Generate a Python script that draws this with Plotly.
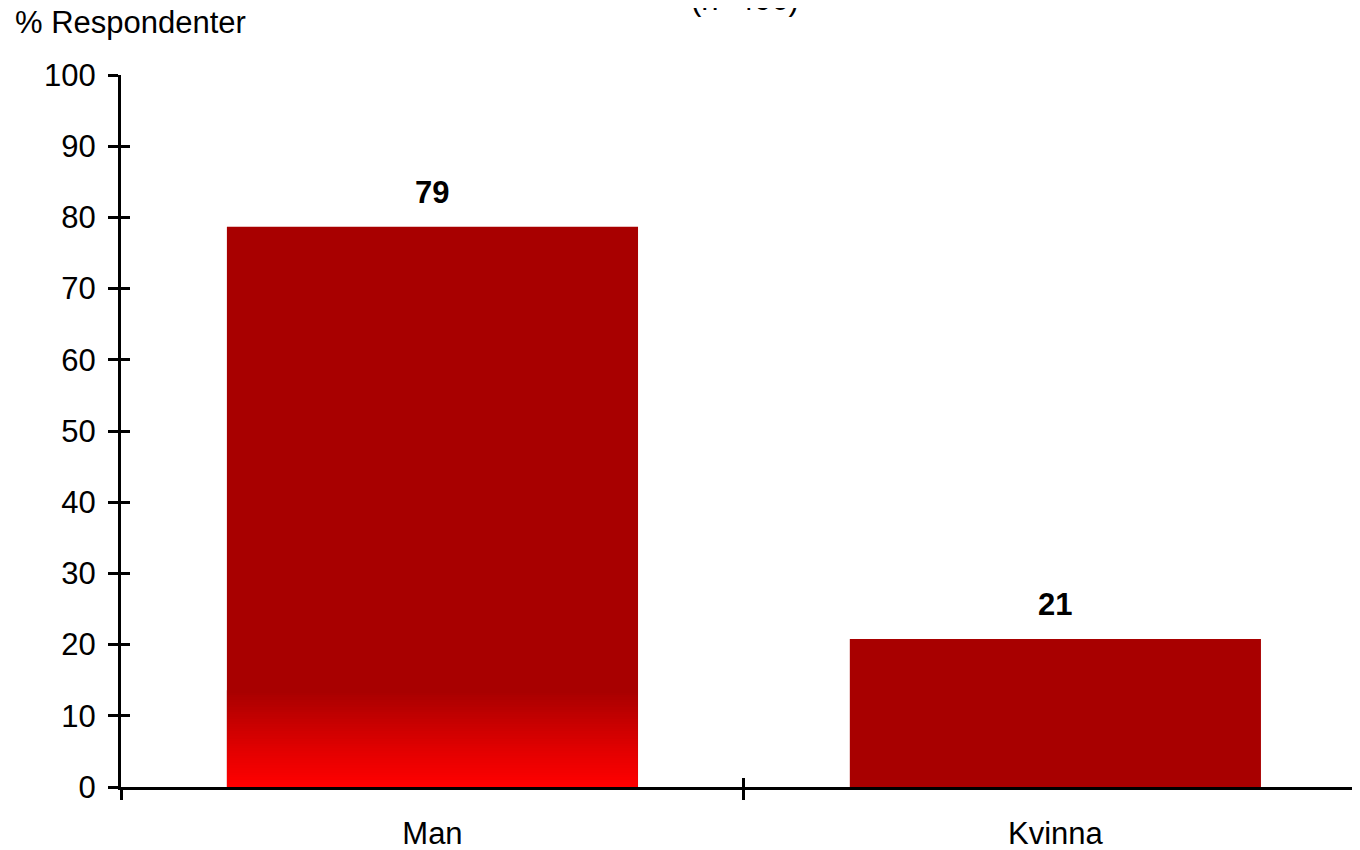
import numpy as np
import plotly.graph_objects as go

categories = ["Man", "Kvinna"]
values = [78.7, 20.8]
value_labels = ["79", "21"]
y_ticks = [0, 10, 20, 30, 40, 50, 60, 70, 80, 90, 100]
title_text = "(n=406)"
y_title = "% Respondenter"

FONT = "Liberation Sans, Arial, sans-serif"
FS = 31
BAR_COLOR = "#A80000"
BAR_WIDTH = 0.66
X_RANGE = [-0.5, 1.489]
Y_RANGE = [0, 100]

fig = go.Figure()
fig.add_trace(go.Bar(
    x=categories, y=values, width=BAR_WIDTH,
    marker=dict(color=BAR_COLOR, line=dict(width=0)),
    hoverinfo="x+y", showlegend=False,
))

# bright-red gradient at the foot of the first bar (styling effect)
grad_top = 13.6
n = 40
edges = np.linspace(0, grad_top, n + 1)
fig.add_trace(go.Heatmap(
    x=[0 - BAR_WIDTH / 2, 0 + BAR_WIDTH / 2],
    y=edges,
    z=[[i / (n - 1)] for i in range(n)],
    colorscale=[[0, "#FF0000"], [0.4, "#E00000"], [1, BAR_COLOR]],
    showscale=False, hoverinfo="skip",
    xaxis="x2", yaxis="y2",
))

for cat, v, lab in zip(categories, values, value_labels):
    fig.add_annotation(x=cat, y=v, text=f"<b>{lab}</b>", showarrow=False,
                       yanchor="bottom", yshift=15,
                       font=dict(family=FONT, size=FS, color="#000000"))

fig.add_annotation(xref="paper", yref="paper", x=-0.0872, y=1.0744,
                   xanchor="left", yanchor="middle", text=y_title, showarrow=False,
                   font=dict(family=FONT, size=FS, color="#000000"))
fig.add_annotation(xref="paper", yref="paper", x=0.5036, y=1.0780,
                   xanchor="center", yanchor="bottom", text=title_text, showarrow=False,
                   font=dict(family=FONT, size=FS, color="#000000"))

fig.update_layout(
    width=1352, height=842,
    margin=dict(l=113, r=0, t=67, b=63),
    paper_bgcolor="white", plot_bgcolor="white",
    font=dict(family=FONT, size=FS, color="#000000"),
    xaxis=dict(type="category", range=X_RANGE, showgrid=False, zeroline=False,
               showline=True, linecolor="#000000", linewidth=3,
               ticks="outside", tickson="boundaries", ticklen=10, tickwidth=3,
               tickcolor="#000000", ticklabelstandoff=17,
               tickfont=dict(family=FONT, size=FS)),
    yaxis=dict(range=Y_RANGE, tickvals=y_ticks, showgrid=False, zeroline=False,
               showline=True, linecolor="#000000", linewidth=3,
               ticks="outside", ticklen=10, tickwidth=3, tickcolor="#000000",
               ticklabelstandoff=6, tickfont=dict(family=FONT, size=FS)),
    xaxis2=dict(overlaying="x", range=X_RANGE, tickvals=[0.5], ticks="inside",
                ticklen=9, tickwidth=3, tickcolor="#000000", showticklabels=False,
                showgrid=False, zeroline=False, showline=False, anchor="y2"),
    yaxis2=dict(overlaying="y", range=Y_RANGE, tickvals=y_ticks, ticks="inside",
                ticklen=9, tickwidth=3, tickcolor="#000000", showticklabels=False,
                showgrid=False, zeroline=False, showline=False, anchor="x2"),
    bargap=0.34,
)

fig.write_html("out.html")
